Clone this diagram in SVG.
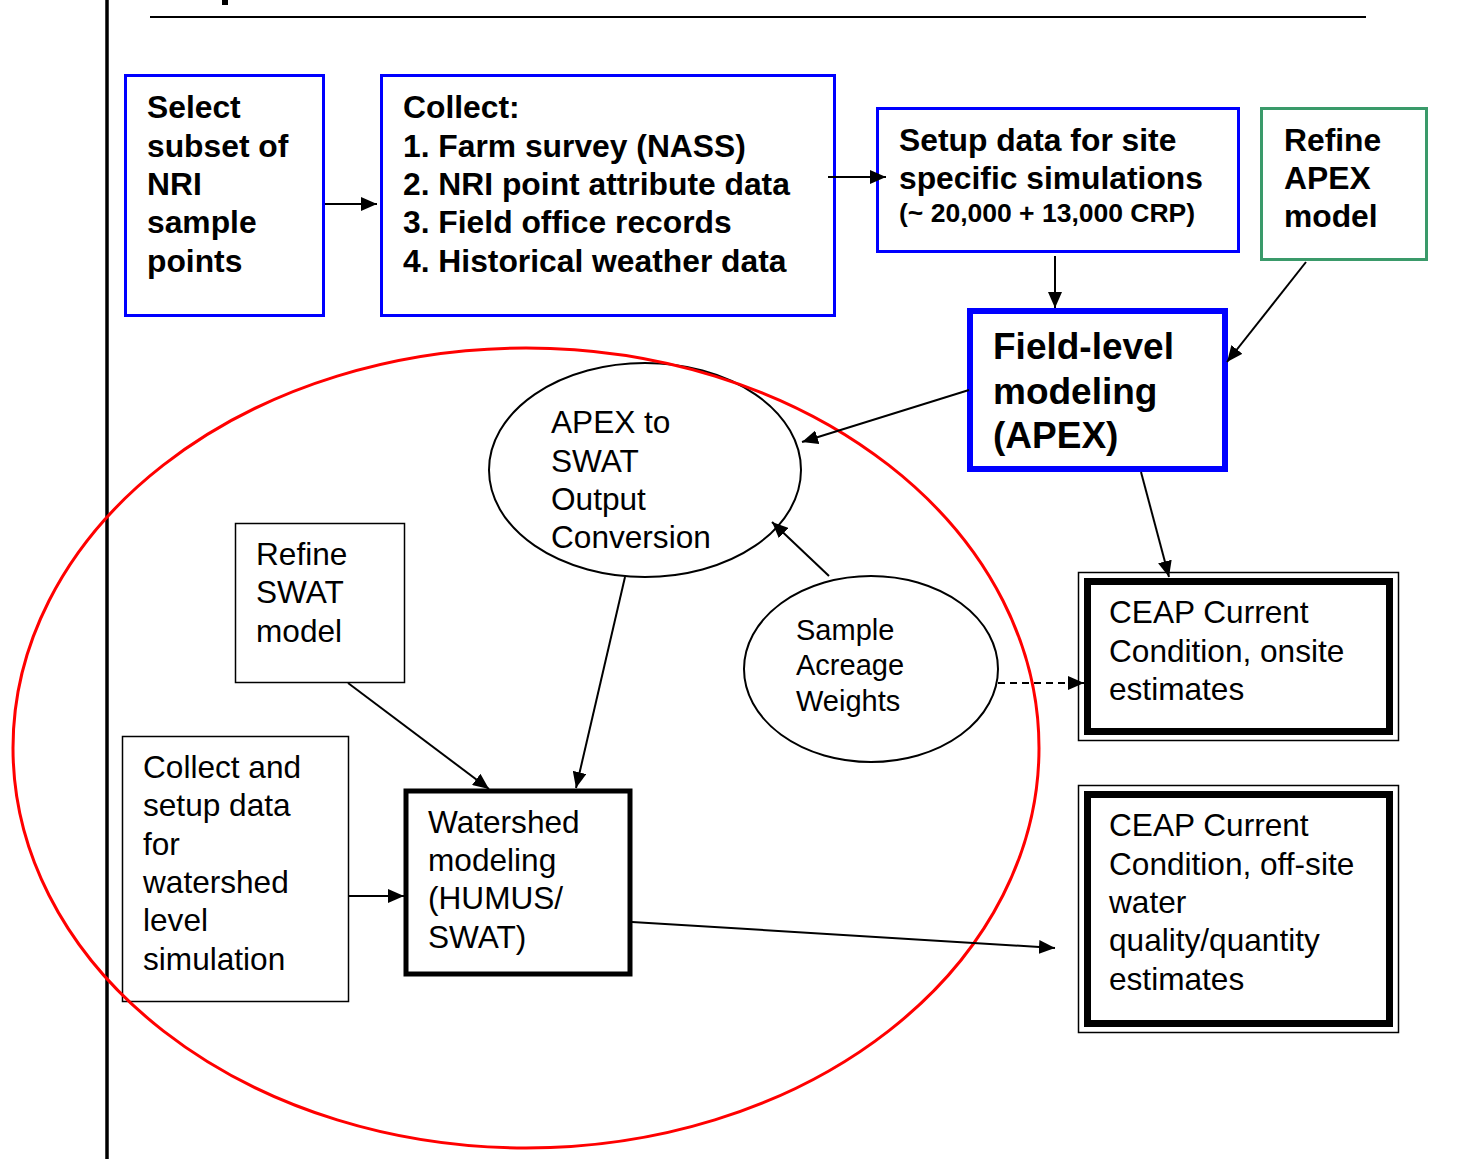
<svg xmlns="http://www.w3.org/2000/svg" width="1463" height="1159" viewBox="0 0 1463 1159">
<style>
text{font-family:"Liberation Sans",Arial,sans-serif;fill:#000}
.b{font-weight:bold;font-size:31.8px}
.r{font-size:31.6px}
.s{font-size:29px}
.bs{font-weight:bold;font-size:26.5px}
.big{font-weight:bold;font-size:37px}
.blue{fill:#fff;stroke:#0000ff;stroke-width:3}
.thin{fill:#fff;stroke:#000;stroke-width:1.5}
.c{stroke:#000;stroke-width:2;fill:none;marker-end:url(#ah)}
</style>
<defs>
<marker id="ah" markerUnits="userSpaceOnUse" markerWidth="18" markerHeight="14" refX="16" refY="7" orient="auto">
<path d="M0,0 L16,7 L0,14 z" fill="#000"/>
</marker>
</defs>
<rect x="0" y="0" width="1463" height="1159" fill="#fff"/>
<line x1="107" y1="0" x2="107" y2="1159" stroke="#000" stroke-width="3.5"/>
<line x1="150" y1="17" x2="1366" y2="17" stroke="#000" stroke-width="2"/>
<rect x="222" y="0" width="6" height="5" fill="#000"/>

<g id="select">
<rect class="blue" x="125.5" y="75.5" width="198" height="240"/>
<text class="b" x="147" y="118">Select</text>
<text class="b" x="147" y="157">subset of</text>
<text class="b" x="147" y="195">NRI</text>
<text class="b" x="147" y="233">sample</text>
<text class="b" x="147" y="272">points</text>
</g>
<g id="collect">
<rect class="blue" x="381.5" y="75.5" width="453" height="240"/>
<text class="b" x="403" y="118">Collect:</text>
<text class="b" x="403" y="157">1. Farm survey (NASS)</text>
<text class="b" x="403" y="195">2. NRI point attribute data</text>
<text class="b" x="403" y="233">3. Field office records</text>
<text class="b" x="403" y="272">4. Historical weather data</text>
</g>
<g id="setup">
<rect class="blue" x="877.5" y="108.5" width="361" height="143"/>
<text class="b" x="899" y="151">Setup data for site</text>
<text class="b" x="899" y="189">specific simulations</text>
<text class="bs" x="899" y="222">(~ 20,000 + 13,000 CRP)</text>
</g>
<g id="refine-apex">
<rect x="1261.5" y="108.5" width="165" height="151" fill="#fff" stroke="#3a9a6a" stroke-width="3"/>
<text class="b" x="1284" y="151">Refine</text>
<text class="b" x="1284" y="189">APEX</text>
<text class="b" x="1284" y="227">model</text>
</g>
<g id="field-level">
<rect x="970" y="311" width="255" height="158" fill="#fff" stroke="#0000ff" stroke-width="6"/>
<text class="big" x="993" y="359">Field-level</text>
<text class="big" x="993" y="404">modeling</text>
<text class="big" x="993" y="448">(APEX)</text>
</g>
<g id="apex-swat">
<ellipse cx="645" cy="470" rx="156" ry="107" fill="#fff" stroke="#000" stroke-width="2"/>
<text class="r" x="551" y="433">APEX to</text>
<text class="r" x="551" y="472">SWAT</text>
<text class="r" x="551" y="510">Output</text>
<text class="r" x="551" y="548">Conversion</text>
</g>
<g id="refine-swat">
<rect class="thin" x="235.5" y="523.5" width="169" height="159"/>
<text class="r" x="256" y="565">Refine</text>
<text class="r" x="256" y="603">SWAT</text>
<text class="r" x="256" y="642">model</text>
</g>
<g id="sample">
<ellipse cx="871" cy="669" rx="127" ry="93" fill="#fff" stroke="#000" stroke-width="2"/>
<text class="s" x="796" y="640">Sample</text>
<text class="s" x="796" y="675">Acreage</text>
<text class="s" x="796" y="711">Weights</text>
</g>
<g id="collect-watershed">
<rect class="thin" x="122.5" y="736.5" width="226" height="265"/>
<text class="r" x="143" y="778">Collect and</text>
<text class="r" x="143" y="816">setup data</text>
<text class="r" x="143" y="855">for</text>
<text class="r" x="143" y="893">watershed</text>
<text class="r" x="143" y="931">level</text>
<text class="r" x="143" y="970">simulation</text>
</g>
<g id="watershed">
<rect x="406" y="791" width="224" height="183" fill="#fff" stroke="#000" stroke-width="5"/>
<text class="r" x="428" y="833">Watershed</text>
<text class="r" x="428" y="871">modeling</text>
<text class="r" x="428" y="909">(HUMUS/</text>
<text class="r" x="428" y="948">SWAT)</text>
</g>
<g id="ceap-onsite">
<rect x="1078.5" y="572.5" width="320" height="168" fill="#fff" stroke="#000" stroke-width="1.5"/>
<rect x="1087.5" y="581.5" width="302" height="150" fill="none" stroke="#000" stroke-width="7"/>
<text class="r" x="1109" y="623">CEAP Current</text>
<text class="r" x="1109" y="662">Condition, onsite</text>
<text class="r" x="1109" y="700">estimates</text>
</g>
<g id="ceap-offsite">
<rect x="1078.5" y="785.5" width="320" height="247" fill="#fff" stroke="#000" stroke-width="1.5"/>
<rect x="1087.5" y="794.5" width="302" height="229" fill="none" stroke="#000" stroke-width="7"/>
<text class="r" x="1109" y="836">CEAP Current</text>
<text class="r" x="1109" y="875">Condition, off-site</text>
<text class="r" x="1109" y="913">water</text>
<text class="r" x="1109" y="951">quality/quantity</text>
<text class="r" x="1109" y="990">estimates</text>
</g>

<ellipse id="scope" cx="526" cy="748" rx="513" ry="400" fill="none" stroke="#ff0000" stroke-width="3"/>

<g id="connectors">
<line class="c" x1="325" y1="204" x2="377" y2="204"/>
<line class="c" x1="828" y1="177" x2="886" y2="177"/>
<line class="c" x1="1055" y1="256" x2="1055" y2="308"/>
<line class="c" x1="1306" y1="262" x2="1227" y2="362"/>
<line class="c" x1="969" y1="390" x2="802" y2="442"/>
<line class="c" x1="829" y1="576" x2="772" y2="522"/>
<line class="c" x1="625" y1="577" x2="576" y2="788"/>
<line class="c" x1="348" y1="683" x2="489" y2="789"/>
<line class="c" x1="349" y1="896" x2="404" y2="896"/>
<line class="c" x1="1141" y1="472" x2="1169" y2="577"/>
<line class="c" x1="998" y1="683" x2="1084" y2="683" stroke-dasharray="7,5"/>
<line class="c" x1="632" y1="922" x2="1055" y2="948"/>
</g>
</svg>
